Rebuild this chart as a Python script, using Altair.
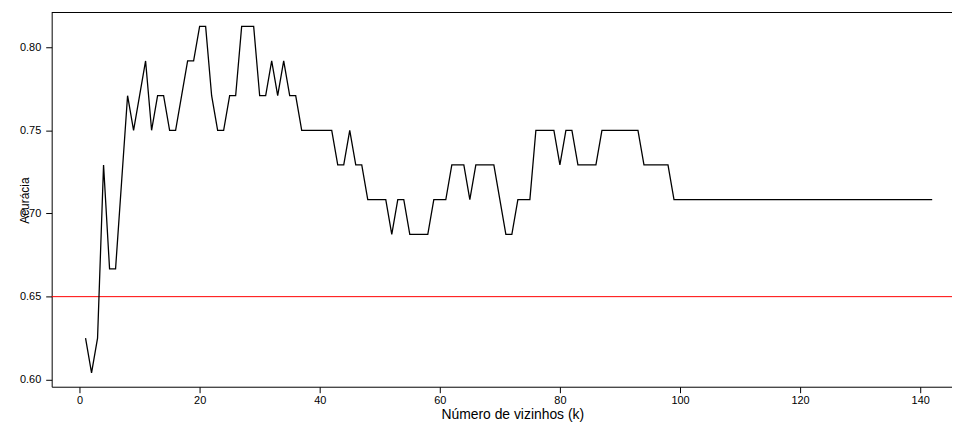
import altair as alt
import pandas as pd

# k (number of neighbours) and accuracy
k_values = list(range(1, 143))
accuracy = [
    0.6250, 0.6042, 0.6250, 0.7292, 0.6667, 0.6667, 0.7188, 0.7708, 0.7500, 0.7708,
    0.7917, 0.7500, 0.7708, 0.7708, 0.7500, 0.7500, 0.7708, 0.7917, 0.7917, 0.8125,
    0.8125, 0.7708, 0.7500, 0.7500, 0.7708, 0.7708, 0.8125, 0.8125, 0.8125, 0.7708,
    0.7708, 0.7917, 0.7708, 0.7917, 0.7708, 0.7708, 0.7500, 0.7500, 0.7500, 0.7500,
    0.7500, 0.7500, 0.7292, 0.7292, 0.7500, 0.7292, 0.7292, 0.7083, 0.7083, 0.7083,
    0.7083, 0.6875, 0.7083, 0.7083, 0.6875, 0.6875, 0.6875, 0.6875, 0.7083, 0.7083,
    0.7083, 0.7292, 0.7292, 0.7292, 0.7083, 0.7292, 0.7292, 0.7292, 0.7292, 0.7083,
    0.6875, 0.6875, 0.7083, 0.7083, 0.7083, 0.7500, 0.7500, 0.7500, 0.7500, 0.7292,
    0.7500, 0.7500, 0.7292, 0.7292, 0.7292, 0.7292, 0.7500, 0.7500, 0.7500, 0.7500,
    0.7500, 0.7500, 0.7500, 0.7292, 0.7292, 0.7292, 0.7292, 0.7292, 0.7083, 0.7083,
    0.7083, 0.7083, 0.7083, 0.7083, 0.7083, 0.7083, 0.7083, 0.7083, 0.7083, 0.7083,
    0.7083, 0.7083, 0.7083, 0.7083, 0.7083, 0.7083, 0.7083, 0.7083, 0.7083, 0.7083,
    0.7083, 0.7083, 0.7083, 0.7083, 0.7083, 0.7083, 0.7083, 0.7083, 0.7083, 0.7083,
    0.7083, 0.7083, 0.7083, 0.7083, 0.7083, 0.7083, 0.7083, 0.7083, 0.7083, 0.7083,
    0.7083, 0.7083,
]
threshold = [0.65]
x_ticks = [0, 20, 40, 60, 80, 100, 120, 140]
y_ticks = [0.60, 0.65, 0.70, 0.75, 0.80]

W, H = 907, 377
FONT = "Liberation Sans"

df = pd.DataFrame({"k": k_values, "acc": accuracy})
thr = pd.DataFrame({"t": threshold})

xs = alt.Scale(domain=[-4.64, 145.3], nice=False, zero=False)
ys = alt.Scale(domain=[0.59583, 0.82083], nice=False, zero=False)

line = alt.Chart(df).mark_line(color="black", strokeWidth=1.3).encode(
    x=alt.X(
        "k:Q", scale=xs,
        axis=alt.Axis(
            values=x_ticks, format="d", title="Número de vizinhos (k)",
            grid=False, tickSize=6, labelFontSize=11, labelPadding=2,
            titleFontSize=14, titleX=464, titleY=32, titleAlign="center",
            titleBaseline="alphabetic", labelFlush=False,
        ),
    ),
    y=alt.Y(
        "acc:Q", scale=ys,
        axis=alt.Axis(
            values=y_ticks, format=".2f", title="Acurácia",
            grid=False, tickSize=6, labelFontSize=11, labelPadding=5,
            titleFontSize=12, titleAngle=270, titleX=-23.5, titleY=189,
            titleAlign="center", titleBaseline="alphabetic",
        ),
    ),
)

red = alt.Chart(thr).mark_rule(color="#ff0000", strokeWidth=1).encode(
    y=alt.Y("t:Q", scale=ys)
)

top_border = alt.Chart(pd.DataFrame({"a": [0]})).mark_rule(
    color="black", strokeWidth=1
).encode(y=alt.value(0), x=alt.value(0), x2=alt.value(W))

chart = alt.layer(red, line, top_border).properties(
    width=W, height=H,
    autosize="none",
    padding={"left": 44, "top": 3, "right": 0, "bottom": 37},
).configure_view(stroke=None).configure_axis(
    domainColor="black", tickColor="black", labelColor="black",
    titleColor="black", labelFont=FONT, titleFont=FONT,
    titleFontWeight="normal", domainWidth=1, tickWidth=1,
)

chart.save("out.html", embed_options={"renderer": "svg", "actions": False})
